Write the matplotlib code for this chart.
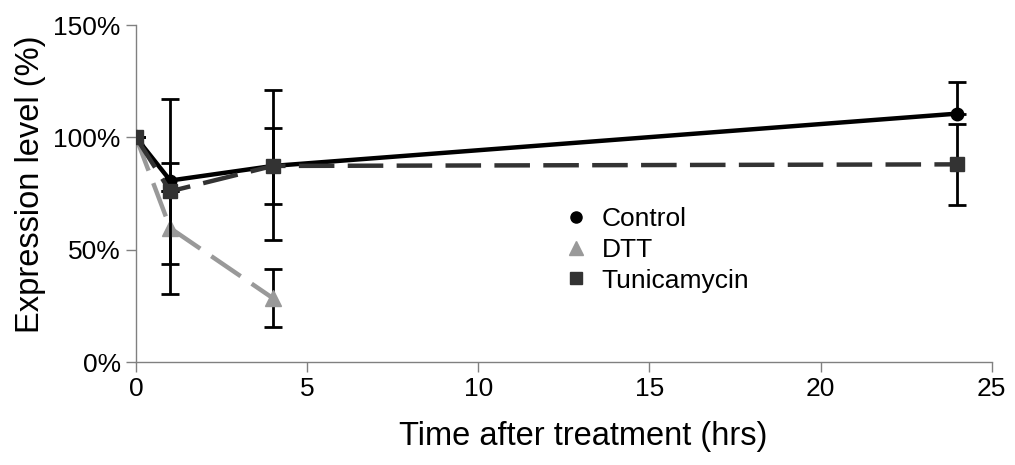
import matplotlib
matplotlib.use("Agg")
import matplotlib.pyplot as plt
from matplotlib.lines import Line2D
from matplotlib.ticker import FuncFormatter

plt.rcParams['font.family'] = ['Liberation Sans', 'DejaVu Sans']

# data (percent)
time = [0, 1, 4, 24]
control = [100, 80.8, 87.3, 110.6]
control_lo = [0, 37, 33, 0]
control_hi = [0, 36.5, 34, 14]

dtt_time = [0, 1, 4]
dtt = [100, 59.6, 28.4]
dtt_err = [0, 29.2, 13]

tunica = [100, 76, 87.3, 88]
tunica_err = [0, 0, 17, 18]

labels = ['Control', 'DTT', 'Tunicamycin']
colors = ['black', '#999999', '#333333']

fig = plt.figure(figsize=(10.15, 4.65), dpi=100)
ax = fig.add_axes([0.134, 0.2215, 0.843, 0.7245])

err_kw = dict(ecolor='black', elinewidth=2, capsize=6.5, capthick=2)

# DTT first, then control, Tunicamycin on top
ax.errorbar(dtt_time, dtt, yerr=dtt_err, color=colors[1], lw=3.2,
            dashes=(8, 3), marker='^', ms=11, mec=colors[1], zorder=2, **err_kw)
ax.errorbar(time, control, yerr=[control_lo, control_hi], color=colors[0], lw=3.2,
            marker='o', ms=9, zorder=3, **err_kw)
ax.errorbar(time, tunica, yerr=tunica_err, color=colors[2], lw=3.2,
            dashes=(8, 3), marker='s', ms=10, zorder=4, **err_kw)

ax.set_xlim(0, 25)
ax.set_ylim(0, 150)
ax.set_xticks(range(0, 26, 5))
ax.set_yticks([0, 50, 100, 150])
ax.yaxis.set_major_formatter(FuncFormatter(lambda v, p: f"{v:.0f}%"))
ax.tick_params(labelsize=19, length=7, width=1, color='#808080', pad=4)

for s in ['top', 'right']:
    ax.spines[s].set_visible(False)
for s in ['left', 'bottom']:
    ax.spines[s].set_color('#808080')
    ax.spines[s].set_linewidth(1)

ax.set_xlabel('Time after treatment (hrs)', fontsize=23.5, labelpad=14)
ax.set_ylabel('Expression level (%)', fontsize=23.5, labelpad=5)
ax.xaxis.label.set_x(0.523)
ax.yaxis.label.set_y(0.528)

handles = [Line2D([], [], ls='none', marker='o', color=colors[0], ms=8),
           Line2D([], [], ls='none', marker='^', color=colors[1], ms=10),
           Line2D([], [], ls='none', marker='s', color=colors[2], ms=9)]
ax.legend(handles, labels, loc='upper left', bbox_to_anchor=(0.49, 0.49),
          frameon=False, fontsize=19, handlelength=0.8, handletextpad=0.55,
          labelspacing=0.25, borderaxespad=0)

fig.savefig('out.png', dpi=100)
